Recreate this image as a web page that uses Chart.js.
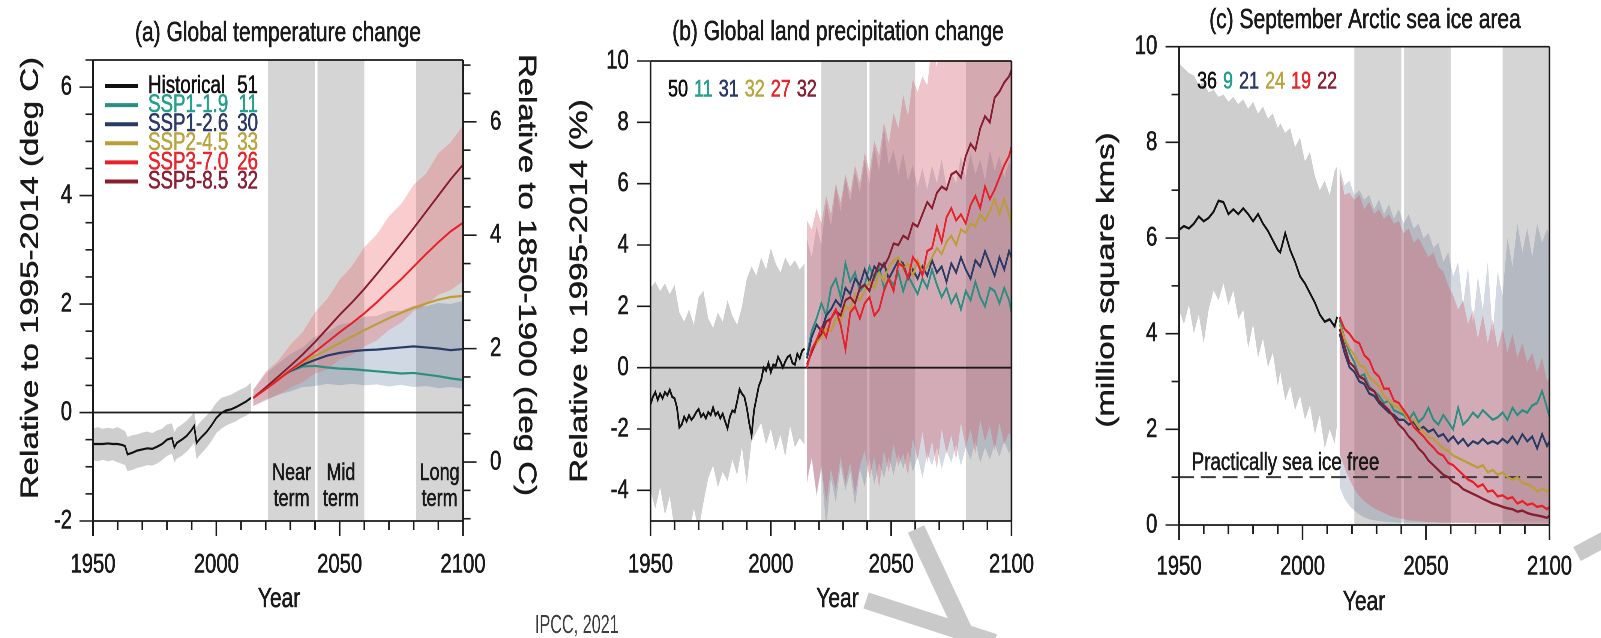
<!DOCTYPE html>
<html>
<head>
<meta charset="utf-8">
<title>Global temperature, land precipitation and Arctic sea ice</title>
<script src="https://cdn.jsdelivr.net/npm/chart.js@4.4.1/dist/chart.umd.min.js"></script>
<style>
  html, body { margin: 0; padding: 0; background: #fff; }
  body { position: relative; width: 1601px; height: 638px; overflow: hidden; }
  canvas.panel { position: absolute; top: 0; transform-origin: 0 0; transform: scaleX(0.75); }
  .wm { position: absolute; background: #c9c9c9; transform-origin: 0 50%; }
</style>
</head>
<body>
<canvas class="panel" id="panelA" width="727" height="638" style="left:0px"></canvas>
<canvas class="panel" id="panelB" width="700" height="638" style="left:530px"></canvas>
<canvas class="panel" id="panelC" width="728" height="638" style="left:1055px"></canvas>
<div class="wm" style="left:866px;top:592px;width:135px;height:17px;transform:rotate(18deg)"></div>
<div class="wm" style="left:916px;top:520px;width:128px;height:18px;transform:rotate(65deg)"></div>
<div class="wm" style="left:1577px;top:546px;width:40px;height:16px;transform:rotate(-28deg)"></div>
<script>
// ---------- shared categories ----------
const scenarioNames = ['Historical', 'SSP1-1.9', 'SSP1-2.6', 'SSP2-4.5', 'SSP3-7.0', 'SSP5-8.5'];
const yearLabels = [1950, 2000, 2050, 2100];
const termStart = [2021, 2041, 2081];
const termEnd = [2040, 2060, 2100];
const termNames = [['Near', 'term'], ['Mid', 'term'], ['Long', 'term']];
const zeroLineYears = [1950, 2100];
const zeroLineValues = [0, 0];
const iceFreeValues = [1, 1];

// ---------- (a) global temperature change ----------
const modelCountsA = [51, 11, 30, 33, 26, 32];
const tickLabelsA = [-2, 0, 2, 4, 6];
const tickLabelsA2 = [0, 2, 4, 6];
const histYearsA = [1950,1952,1954,1956,1958,1960,1962,1963,1964,1966,1968,1970,1972,1974,1976,1978,1980,1982,1983,1984,1986,1988,1990,1991,1992,1993,1994,1996,1998,2000,2002,2004,2006,2008,2010,2012,2014];
const histTempA = [-0.58,-0.58,-0.58,-0.57,-0.58,-0.58,-0.6,-0.62,-0.77,-0.74,-0.7,-0.68,-0.66,-0.67,-0.63,-0.58,-0.5,-0.47,-0.64,-0.56,-0.5,-0.43,-0.32,-0.25,-0.56,-0.5,-0.45,-0.36,-0.24,-0.1,-0.01,0.04,0.06,0.1,0.15,0.2,0.27];
const histUpperA = [-0.3,-0.27,-0.3,-0.28,-0.3,-0.27,-0.32,-0.34,-0.45,-0.42,-0.4,-0.37,-0.35,-0.38,-0.33,-0.3,-0.22,-0.2,-0.36,-0.28,-0.22,-0.15,-0.05,0.02,-0.27,-0.2,-0.15,-0.06,0.05,0.18,0.27,0.3,0.33,0.38,0.43,0.47,0.55];
const histLowerA = [-0.88,-0.9,-0.87,-0.9,-0.88,-0.92,-0.95,-0.97,-1.08,-1.06,-1.02,-1.0,-0.97,-0.98,-0.94,-0.88,-0.8,-0.76,-0.92,-0.85,-0.8,-0.72,-0.62,-0.55,-0.86,-0.8,-0.75,-0.65,-0.53,-0.38,-0.3,-0.24,-0.2,-0.16,-0.1,-0.06,0.0];
const sspYearsA = [2015,2020,2025,2030,2035,2040,2045,2050,2055,2060,2065,2070,2075,2080,2085,2090,2095,2100];
const ssp119A = [0.27,0.45,0.62,0.76,0.85,0.86,0.83,0.81,0.8,0.78,0.76,0.74,0.72,0.73,0.7,0.67,0.63,0.6];
const ssp126A = [0.27,0.45,0.62,0.77,0.88,0.97,1.05,1.1,1.13,1.15,1.16,1.18,1.2,1.22,1.2,1.18,1.15,1.17];
const ssp245A = [0.27,0.45,0.62,0.78,0.92,1.04,1.16,1.28,1.4,1.52,1.63,1.74,1.84,1.93,2.01,2.08,2.13,2.15];
const ssp370A = [0.27,0.43,0.6,0.78,0.95,1.12,1.3,1.48,1.65,1.83,2.03,2.25,2.46,2.69,2.92,3.14,3.34,3.5];
const ssp585A = [0.27,0.46,0.66,0.86,1.07,1.3,1.55,1.8,2.03,2.28,2.55,2.83,3.11,3.4,3.7,4.0,4.3,4.57];
const ssp370UpperA = [0.42,0.75,0.95,1.25,1.48,1.85,2.1,2.45,2.7,3.05,3.28,3.62,3.85,4.2,4.4,4.78,4.98,5.3];
const ssp370LowerA = [0.12,0.24,0.32,0.46,0.56,0.72,0.8,0.98,1.06,1.22,1.33,1.52,1.66,1.87,1.98,2.17,2.26,2.42];
const ssp126UpperA = [0.42,0.72,0.9,1.08,1.2,1.4,1.48,1.62,1.66,1.77,1.78,1.87,1.88,1.97,1.96,2.02,2.0,2.06];
const ssp126LowerA = [0.12,0.22,0.33,0.39,0.47,0.49,0.53,0.5,0.53,0.5,0.52,0.48,0.51,0.47,0.49,0.45,0.47,0.44];

// ---------- projection years shared by (b) and (c) ----------
const sspYears = [2015,2017,2019,2021,2023,2025,2027,2029,2031,2033,2035,2037,2039,2041,2043,2045,2047,2049,2051,2053,2055,2057,2059,2061,2063,2065,2067,2069,2071,2073,2075,2077,2079,2081,2083,2085,2087,2089,2091,2093,2095,2097,2099,2100];

// ---------- (b) global land precipitation change ----------
const modelCountsB = [50, 11, 31, 32, 27, 32];
const tickLabelsB = [-4, -2, 0, 2, 4, 6, 8, 10];
const histYearsB = [1950,1951,1952,1953,1954,1955,1956,1957,1958,1959,1960,1961,1962,1963,1964,1965,1966,1967,1968,1969,1970,1971,1972,1973,1974,1975,1976,1977,1978,1979,1980,1981,1982,1983,1984,1985,1986,1987,1988,1989,1990,1991,1992,1993,1994,1995,1996,1997,1998,1999,2000,2001,2002,2003,2004,2005,2006,2007,2008,2009,2010,2011,2012,2013,2014];
const histPrecipB = [-1.2,-0.95,-0.8,-1.05,-0.85,-1.0,-0.8,-0.9,-0.72,-0.95,-1.0,-1.3,-1.95,-1.85,-1.6,-1.75,-1.55,-1.7,-1.6,-1.45,-1.35,-1.6,-1.5,-1.65,-1.45,-1.55,-1.3,-1.55,-1.45,-1.65,-1.5,-1.75,-1.98,-1.6,-1.4,-1.45,-1.1,-0.7,-0.85,-0.95,-1.3,-1.8,-2.2,-1.4,-1.0,-0.6,-0.4,0.0,-0.1,0.15,-0.15,0.1,0.05,0.35,0.2,0.0,0.2,0.35,0.4,0.15,0.1,0.45,0.3,0.55,0.62];
const histBandYearsB = [1950,1952,1954,1956,1958,1960,1962,1964,1966,1968,1970,1972,1974,1976,1978,1980,1982,1984,1986,1988,1990,1992,1994,1996,1998,2000,2002,2004,2006,2008,2010,2012,2014];
const histUpperB = [2.6,2.8,2.5,2.75,2.4,2.7,1.8,1.5,1.9,1.4,2.3,2.5,1.6,1.3,1.8,1.5,2.2,1.7,1.4,2.0,2.9,3.3,3.0,3.6,3.2,3.9,3.4,3.1,3.6,3.3,3.5,3.2,3.4];
const histLowerB = [-4.0,-4.6,-3.9,-4.8,-4.2,-5.3,-5.4,-5.2,-5.5,-4.6,-5.3,-4.4,-3.6,-3.2,-3.9,-3.4,-3.7,-3.0,-3.5,-2.6,-3.8,-2.4,-2.1,-1.8,-2.5,-2.0,-2.7,-2.2,-2.9,-1.9,-2.6,-2.3,-2.5];
const ssp119B = [0.4,1.2,1.6,2.1,1.7,2.6,2.9,2.3,3.4,2.8,3.1,2.5,2.7,3.3,2.9,3.3,2.6,2.9,2.7,3.1,2.5,3.0,2.7,2.4,2.9,2.6,3.2,2.7,2.3,2.6,2.1,2.4,1.9,2.5,2.2,2.8,2.3,2.0,2.6,2.5,2.1,2.6,2.2,1.8];
const ssp126B = [0.3,1.0,1.4,1.2,1.7,1.9,2.2,2.0,2.6,2.4,2.9,2.7,3.2,2.8,3.3,3.1,3.4,2.9,3.2,3.5,3.4,2.9,3.2,2.9,3.3,3.0,3.5,3.1,3.3,2.8,3.4,3.1,3.6,3.2,2.9,3.5,3.3,3.8,3.4,3.0,3.6,3.2,3.8,3.6];
const ssp245B = [0.1,0.5,0.8,1.0,1.3,1.2,1.6,1.5,2.0,1.9,2.4,2.2,2.5,2.8,2.6,3.1,2.8,3.3,3.5,3.6,3.2,3.4,3.0,3.5,3.1,3.3,3.6,3.9,3.7,4.1,4.3,4.0,4.5,4.4,4.7,4.6,5.0,4.8,5.1,5.5,5.0,5.5,5.0,4.6];
const ssp370B = [0.0,0.6,0.9,1.3,1.0,1.6,1.9,1.4,0.6,1.8,2.0,1.6,2.1,2.3,1.7,1.9,2.5,2.9,2.5,3.4,3.3,2.9,3.6,3.4,3.0,3.8,3.9,4.6,4.1,4.9,5.2,4.8,5.0,4.7,5.3,5.6,5.2,5.9,5.5,5.8,6.2,6.6,6.9,7.2];
const ssp585B = [0.1,0.5,0.9,1.1,1.5,1.6,1.85,1.7,2.2,2.3,2.1,2.6,2.7,2.5,3.0,3.4,3.3,3.6,4.05,4.0,4.3,4.2,4.7,4.6,5.0,5.4,5.2,5.7,5.9,5.8,6.3,6.4,6.2,6.9,7.3,7.1,7.8,8.2,8.0,8.8,9.0,9.3,9.5,9.7];
const ssp370UpperB = [4.8,4.5,5.2,4.7,5.6,5.0,6.0,5.4,6.3,5.7,6.6,6.0,7.0,6.4,7.4,6.9,8.0,7.3,8.3,7.8,8.9,8.2,9.4,9.0,9.5,9.2,10.6,9.8,11.0,10.4,11.0,10.6,11.2,10.3,11.0,10.5,11.2,10.6,11.0,10.4,11.3,10.8,11.5,11.0];
const ssp370LowerB = [-3.8,-2.9,-4.1,-3.2,-4.4,-3.3,-4.0,-2.9,-3.8,-3.1,-4.1,-3.2,-2.7,-3.6,-2.9,-3.9,-2.7,-3.4,-2.5,-3.2,-2.8,-3.5,-2.3,-3.0,-2.1,-3.1,-2.4,-3.3,-2.0,-2.8,-2.2,-3.0,-1.8,-2.6,-2.0,-2.8,-1.7,-2.4,-1.9,-2.7,-1.8,-2.5,-2.1,-2.3];
const ssp126UpperB = [4.2,3.6,4.6,4.0,5.4,4.6,5.9,5.1,6.2,5.4,6.4,5.7,6.8,6.0,7.2,6.4,7.8,6.6,7.1,6.3,7.0,6.1,6.6,5.9,6.5,5.8,6.6,6.0,6.8,5.9,6.4,6.0,6.9,6.2,7.0,6.3,6.8,6.1,7.1,6.4,6.9,6.2,6.7,6.5];
const ssp126LowerB = [-3.6,-3.0,-4.2,-3.3,-5.2,-3.6,-4.4,-3.2,-4.0,-3.4,-4.5,-3.3,-3.9,-3.0,-3.8,-3.1,-3.6,-2.9,-3.5,-2.8,-3.3,-2.7,-3.4,-2.9,-3.6,-2.8,-3.2,-2.6,-3.3,-2.7,-3.1,-2.5,-3.2,-2.6,-3.0,-2.4,-3.1,-2.6,-3.0,-2.5,-2.9,-2.4,-2.8,-2.6];

// ---------- (c) September Arctic sea ice area ----------
const modelCountsC = [36, 9, 21, 24, 19, 22];
const tickLabelsC = [0, 2, 4, 6, 8, 10];
const histYearsC = [1950,1952,1954,1956,1958,1960,1962,1964,1966,1968,1970,1972,1974,1976,1978,1980,1982,1984,1986,1988,1990,1991,1993,1995,1997,1999,2001,2003,2005,2007,2009,2011,2013,2014];
const histIceC = [6.17,6.25,6.2,6.3,6.45,6.35,6.42,6.55,6.78,6.75,6.5,6.6,6.5,6.62,6.5,6.35,6.5,6.3,6.15,5.95,5.75,5.7,6.1,5.75,5.5,5.2,5.05,4.85,4.65,4.4,4.25,4.3,4.15,4.35];
const histUpperC = [9.65,9.55,9.45,9.4,9.2,9.25,9.05,9.1,8.95,9.0,8.85,8.95,8.8,8.9,8.7,8.85,8.6,8.75,8.5,8.6,8.3,8.4,8.2,8.3,7.9,8.1,7.6,7.8,7.3,7.0,7.2,6.9,7.4,7.5];
const histLowerC = [4.5,4.2,4.6,4.0,4.4,3.8,4.5,4.9,4.7,5.05,4.6,4.9,4.3,4.5,3.7,4.2,3.5,3.9,3.3,3.6,2.9,3.2,2.6,2.9,2.4,2.7,2.2,2.5,1.9,2.3,1.6,2.0,1.7,2.1];
const ssp119C = [4.3,3.9,3.6,3.4,3.1,3.15,2.9,2.8,2.7,2.55,2.6,2.4,2.35,2.3,2.2,2.35,2.15,2.25,2.45,2.2,2.1,2.3,2.15,2.0,2.45,2.1,2.2,2.35,2.25,2.4,2.3,2.2,2.25,2.35,2.2,2.45,2.3,2.4,2.35,2.5,2.55,2.8,2.45,2.25];
const ssp126C = [4.0,3.6,3.3,3.2,3.0,2.95,2.75,2.7,2.55,2.45,2.35,2.3,2.2,2.2,2.1,2.15,2.0,2.05,1.95,2.0,1.85,1.9,1.75,1.85,1.7,1.8,1.65,1.75,1.7,1.8,1.7,1.75,1.7,1.8,1.72,1.85,1.7,1.9,1.75,1.85,1.6,1.9,1.65,1.75];
const ssp245C = [4.2,3.9,3.7,3.55,3.35,3.3,3.1,3.0,2.9,2.7,2.6,2.5,2.45,2.35,2.2,2.2,2.05,1.95,1.85,1.8,1.7,1.6,1.55,1.45,1.4,1.35,1.3,1.25,1.2,1.25,1.1,1.15,1.05,1.1,1.0,0.95,1.0,0.88,0.85,0.8,0.7,0.75,0.7,0.75];
const ssp370C = [4.35,4.1,4.0,3.85,3.8,3.55,3.45,3.2,3.1,2.85,2.85,2.6,2.55,2.4,2.25,2.05,1.95,1.85,1.72,1.62,1.5,1.45,1.3,1.25,1.15,1.05,0.95,0.9,0.8,0.85,0.7,0.72,0.6,0.62,0.55,0.58,0.45,0.5,0.42,0.45,0.38,0.4,0.33,0.38];
const ssp585C = [4.1,3.75,3.4,3.3,3.1,3.05,2.85,2.8,2.6,2.5,2.4,2.25,2.1,2.0,1.85,1.75,1.6,1.5,1.35,1.25,1.15,1.05,1.0,0.9,0.85,0.75,0.7,0.65,0.6,0.55,0.5,0.45,0.42,0.38,0.35,0.33,0.28,0.3,0.25,0.22,0.2,0.18,0.15,0.2];
const ssp370UpperC = [7.4,6.9,6.95,6.8,6.9,6.6,6.75,6.5,6.6,6.4,6.5,6.3,6.35,6.1,6.2,5.9,6.0,5.8,5.6,5.7,5.4,5.3,5.0,4.8,4.5,4.7,4.2,4.5,3.9,4.4,3.8,4.3,3.7,4.1,3.6,4.0,3.5,3.8,3.4,3.6,3.2,3.5,3.0,3.1];
const ssp370LowerC = [1.5,1.2,0.95,0.75,0.6,0.5,0.42,0.35,0.3,0.25,0.2,0.17,0.14,0.12,0.1,0.09,0.08,0.07,0.06,0.06,0.05,0.05,0.05,0.04,0.04,0.04,0.04,0.03,0.03,0.03,0.03,0.03,0.03,0.02,0.02,0.02,0.02,0.02,0.02,0.02,0.02,0.02,0.02,0.02];
const ssp126UpperC = [7.5,7.1,7.2,6.9,7.0,6.8,6.9,6.6,6.8,6.5,6.7,6.4,6.6,6.3,6.5,6.2,6.3,6.0,6.1,5.8,5.9,5.5,5.7,5.2,5.5,4.6,5.4,4.2,5.2,4.5,5.5,4.0,5.3,4.8,6.0,5.4,6.3,5.7,6.2,5.6,6.3,5.9,6.2,6.0];
const ssp126LowerC = [0.8,0.55,0.4,0.3,0.22,0.16,0.12,0.1,0.08,0.07,0.06,0.06,0.05,0.05,0.05,0.05,0.05,0.05,0.05,0.05,0.05,0.05,0.05,0.05,0.05,0.05,0.05,0.05,0.05,0.05,0.05,0.05,0.05,0.05,0.05,0.05,0.05,0.05,0.05,0.05,0.05,0.05,0.05,0.05];

// ---------- styling ----------
const SQUEEZE = 0.75;               // horizontal CSS squeeze of every canvas
const FONT = '"Liberation Sans", Arial, Helvetica, sans-serif';
const INK = '#1a1a1a';
const TEXT_STROKE = 0.6;            // slight stroke keeps squeezed glyphs dark
const lineColors = ['#111111', '#2a8f80', '#283a66', '#bc9d36', '#e8202a', '#8a1c30'];
const textColors = ['#111111', '#25a08d', '#2c3a68', '#b9a640', '#e8262e', '#8a2035'];
const TERM_FILL = '#d5d5d5';
const HIST_BAND = 'rgba(120,120,120,0.36)';
const PINK_A = 'rgba(235,100,100,0.32)';
const BLUE_A = 'rgba(60,90,140,0.24)';
const PINK_BC = 'rgba(212,92,108,0.36)';
const BLUE_BC = 'rgba(85,105,140,0.26)';

Chart.defaults.font.family = FONT;
Chart.defaults.color = INK;

// logical canvas x from a page x, for a canvas whose left edge sits at `left`
const lx = (pageX, left) => (pageX - left) / SQUEEZE;
const xy = (years, vals) => years.map((yr, i) => ({ x: yr, y: vals[i] }));
const hasLabel = (list, v) => list.some(l => Math.abs(l - v) < 1e-6);

function lineSet(years, vals, color, width, order, extra) {
  return Object.assign({ data: xy(years, vals), borderColor: color, borderWidth: width,
    pointRadius: 0, pointHoverRadius: 0, fill: false, tension: 0, order }, extra || {});
}
function bandSets(years, upper, lower, color, order) {
  return [
    { data: xy(years, upper), borderWidth: 0, borderColor: 'rgba(0,0,0,0)', pointRadius: 0,
      fill: '+1', backgroundColor: color, order },
    { data: xy(years, lower), borderWidth: 0, borderColor: 'rgba(0,0,0,0)', pointRadius: 0,
      fill: false, order }
  ];
}
const tickText = { size: 27 };
function yearAxis(height, pad) {
  return {
    type: 'linear', position: 'bottom', min: 1950, max: 2100,
    ticks: { stepSize: 10, autoSkip: false, maxRotation: 0, minRotation: 0, includeBounds: false,
      padding: pad, color: INK, font: tickText, textStrokeColor: INK, textStrokeWidth: TEXT_STROKE,
      callback: v => hasLabel(yearLabels, v) ? String(v) : '' },
    grid: { display: false, drawTicks: false }, border: { display: false },
    afterFit: s => { s.height = height; }
  };
}
function valueAxis(position, min, max, step, labels, width, pad) {
  return {
    type: 'linear', position, min, max,
    ticks: { stepSize: step, autoSkip: false, includeBounds: false, padding: pad, color: INK,
      font: tickText, textStrokeColor: INK, textStrokeWidth: TEXT_STROKE,
      callback: v => hasLabel(labels, v) ? String(v) : '' },
    grid: { display: false, drawTicks: false }, border: { display: false },
    afterFit: s => { s.width = width; }
  };
}

// period columns, plot frame and tick marks
const framePlugin = {
  id: 'frame',
  beforeDatasetsDraw(chart) {
    const { ctx, chartArea: a } = chart;
    const x = chart.scales.x;
    ctx.save();
    ctx.fillStyle = TERM_FILL;
    for (let i = 0; i < termStart.length; i++) {
      const x0 = x.getPixelForValue(termStart[i]);
      const x1 = x.getPixelForValue(termEnd[i]);
      ctx.fillRect(x0, a.top, x1 - x0, a.bottom - a.top);
    }
    ctx.restore();
  },
  afterDatasetsDraw(chart) {
    const { ctx, chartArea: a } = chart;
    ctx.save();
    ctx.strokeStyle = INK;
    // frame: horizontal edges 1.7px, vertical edges compensate the squeeze
    ctx.lineWidth = 1.7;
    ctx.beginPath();
    ctx.moveTo(a.left, a.top); ctx.lineTo(a.right, a.top);
    ctx.moveTo(a.left, a.bottom); ctx.lineTo(a.right, a.bottom);
    ctx.stroke();
    ctx.lineWidth = 2.3;
    ctx.beginPath();
    ctx.moveTo(a.left, a.top); ctx.lineTo(a.left, a.bottom);
    ctx.moveTo(a.right, a.top); ctx.lineTo(a.right, a.bottom);
    ctx.stroke();
    for (const id of Object.keys(chart.scales)) {
      const s = chart.scales[id];
      for (const t of s.ticks) {
        const major = String(t.label) !== '';
        const p = s.getPixelForValue(t.value);
        ctx.beginPath();
        if (s.position === 'bottom') {
          ctx.lineWidth = 2.2;
          ctx.moveTo(p, a.bottom); ctx.lineTo(p, a.bottom + (major ? 15 : 9));
        } else if (s.position === 'left') {
          ctx.lineWidth = 1.6;
          ctx.moveTo(a.left, p); ctx.lineTo(a.left - (major ? 18 : 10), p);
        } else {
          ctx.lineWidth = 1.6;
          ctx.moveTo(a.right, p); ctx.lineTo(a.right + (major ? 18 : 10), p);
        }
        ctx.stroke();
      }
    }
    ctx.restore();
  }
};

function text(ctx, str, x, y, font, color, align, baseline, rot) {
  ctx.save();
  ctx.translate(x, y);
  if (rot) ctx.rotate(rot);
  ctx.font = font;
  ctx.fillStyle = color;
  ctx.strokeStyle = color;
  ctx.lineWidth = TEXT_STROKE;
  ctx.textAlign = align || 'center';
  ctx.textBaseline = baseline || 'alphabetic';
  ctx.fillText(str, 0, 0);
  ctx.strokeText(str, 0, 0);
  ctx.restore();
}
function countsRow(ctx, counts, x, y) {
  ctx.save();
  ctx.font = '24px ' + FONT;
  let cx = x;
  counts.forEach((n, i) => {
    text(ctx, String(n), cx, y, '24px ' + FONT, textColors[i], 'left', 'middle');
    cx += ctx.measureText(String(n)).width + 8;
  });
  ctx.restore();
}

const baseOptions = (padding, scales) => ({
  responsive: false, animation: false, devicePixelRatio: 2,
  layout: { padding, autoPadding: false },
  plugins: { legend: { display: false }, tooltip: { enabled: false }, title: { display: false } },
  events: [],
  scales
});

// ---------- panel (a) ----------
const LA = 0;
new Chart(document.getElementById('panelA'), {
  type: 'line',
  data: {
    datasets: [
      ...bandSets(histYearsA, histUpperA, histLowerA, HIST_BAND, 20),
      ...bandSets(sspYearsA, ssp126UpperA, ssp126LowerA, BLUE_A, 19),
      ...bandSets(sspYearsA, ssp370UpperA, ssp370LowerA, PINK_A, 18),
      lineSet(zeroLineYears, zeroLineValues, INK, 1.8, 10),
      lineSet(histYearsA, histTempA, lineColors[0], 2.2, 8),
      lineSet(sspYearsA, ssp119A, lineColors[1], 2.2, 6),
      lineSet(sspYearsA, ssp126A, lineColors[2], 2.2, 5),
      lineSet(sspYearsA, ssp245A, lineColors[3], 2.2, 4),
      lineSet(sspYearsA, ssp370A, lineColors[4], 2.2, 2),
      lineSet(sspYearsA, ssp585A, lineColors[5], 2.2, 3)
    ]
  },
  options: baseOptions({ top: 60, left: 0, right: 0, bottom: 0 }, {
    x: yearAxis(117, 28),
    y: valueAxis('left', -2, 6.5, 0.5, tickLabelsA, lx(93, LA), 28),
    y2: valueAxis('right', -1.04, 7.09, 0.5, tickLabelsA2, 727 - lx(463, LA), 36)
  }),
  plugins: [framePlugin, {
    id: 'textA',
    afterDraw(chart) {
      const ctx = chart.ctx;
      const x = chart.scales.x;
      text(ctx, '(a) Global temperature change', lx(278, LA), 41, '28px ' + FONT, INK);
      text(ctx, 'Relative to 1995-2014 (deg C)', lx(31, LA), 278, '33px ' + FONT, INK, 'center', 'middle', -Math.PI / 2);
      text(ctx, 'Relative to 1850-1900 (deg C)', lx(526, LA), 275, '33px ' + FONT, INK, 'center', 'middle', Math.PI / 2);
      text(ctx, 'Year', lx(279, LA), 607, '28px ' + FONT, INK);
      for (let i = 0; i < termStart.length; i++) {
        const cx = (x.getPixelForValue(termStart[i]) + x.getPixelForValue(termEnd[i])) / 2;
        text(ctx, termNames[i][0], cx, 480, '24px ' + FONT, INK);
        text(ctx, termNames[i][1], cx, 506, '24px ' + FONT, INK);
      }
      scenarioNames.forEach((name, i) => {
        const y = 86 + i * 19.1;
        ctx.save();
        ctx.strokeStyle = lineColors[i];
        ctx.lineWidth = 4;
        ctx.beginPath();
        ctx.moveTo(lx(105, LA), y); ctx.lineTo(lx(138, LA), y);
        ctx.stroke();
        ctx.restore();
        text(ctx, name, lx(148, LA), y, '25px ' + FONT, textColors[i], 'left', 'middle');
        text(ctx, String(modelCountsA[i]), lx(258, LA), y, '25px ' + FONT, textColors[i], 'right', 'middle');
      });
    }
  }]
});

// ---------- panel (b) ----------
const LB = 530;
new Chart(document.getElementById('panelB'), {
  type: 'line',
  data: {
    datasets: [
      ...bandSets(histBandYearsB, histUpperB, histLowerB, HIST_BAND, 20),
      ...bandSets(sspYears, ssp126UpperB, ssp126LowerB, BLUE_BC, 19),
      ...bandSets(sspYears, ssp370UpperB, ssp370LowerB, PINK_BC, 18),
      lineSet(zeroLineYears, zeroLineValues, INK, 1.8, 10),
      lineSet(histYearsB, histPrecipB, lineColors[0], 2.4, 8),
      lineSet(sspYears, ssp119B, lineColors[1], 2.4, 6),
      lineSet(sspYears, ssp126B, lineColors[2], 2.4, 5),
      lineSet(sspYears, ssp245B, lineColors[3], 2.4, 4),
      lineSet(sspYears, ssp370B, lineColors[4], 2.4, 2),
      lineSet(sspYears, ssp585B, lineColors[5], 2.4, 3)
    ]
  },
  options: baseOptions({ top: 61, left: 0, right: 700 - lx(1024.5, LB), bottom: 0 }, {
    x: yearAxis(117, 28),
    y: valueAxis('left', -5, 10, 2, tickLabelsB, lx(650.5, LB), 29)
  }),
  plugins: [framePlugin, {
    id: 'textB',
    afterDraw(chart) {
      const ctx = chart.ctx;
      text(ctx, '(b) Global land precipitation change', lx(838, LB), 40, '28px ' + FONT, INK);
      text(ctx, 'Relative to 1995-2014 (%)', lx(580, LB), 291, '33px ' + FONT, INK, 'center', 'middle', -Math.PI / 2);
      text(ctx, 'Year', lx(837.5, LB), 607, '28px ' + FONT, INK);
      countsRow(ctx, modelCountsB, lx(668, LB), 90);
      ctx.save();
      ctx.translate(lx(535, LB), 633);
      ctx.scale(0.83, 1);
      ctx.font = '26px ' + FONT;
      ctx.fillStyle = '#3c3c3c';
      ctx.textAlign = 'left';
      ctx.fillText('IPCC, 2021', 0, 0);
      ctx.restore();
    }
  }]
});

// ---------- panel (c) ----------
const LC = 1055;
new Chart(document.getElementById('panelC'), {
  type: 'line',
  data: {
    datasets: [
      ...bandSets(histYearsC, histUpperC, histLowerC, HIST_BAND, 20),
      ...bandSets(sspYears, ssp126UpperC, ssp126LowerC, BLUE_BC, 19),
      ...bandSets(sspYears, ssp370UpperC, ssp370LowerC, PINK_BC, 18),
      lineSet(zeroLineYears, iceFreeValues, '#3a3a3a', 2, 10, { borderDash: [20, 9] }),
      lineSet(histYearsC, histIceC, lineColors[0], 2.4, 8),
      lineSet(sspYears, ssp119C, lineColors[1], 2.4, 6),
      lineSet(sspYears, ssp126C, lineColors[2], 2.4, 5),
      lineSet(sspYears, ssp245C, lineColors[3], 2.4, 4),
      lineSet(sspYears, ssp370C, lineColors[4], 2.4, 2),
      lineSet(sspYears, ssp585C, lineColors[5], 2.4, 3)
    ]
  },
  options: baseOptions({ top: 46.7, left: 0, right: 728 - lx(1549.5, LC), bottom: 0 }, {
    x: yearAxis(113, 26),
    y: valueAxis('left', 0, 10, 1, tickLabelsC, lx(1179, LC), 29)
  }),
  plugins: [framePlugin, {
    id: 'textC',
    afterDraw(chart) {
      const ctx = chart.ctx;
      text(ctx, '(c) September Arctic sea ice area', lx(1365, LC), 28, '28px ' + FONT, INK);
      text(ctx, '(million square kms)', lx(1107, LC), 280, '33px ' + FONT, INK, 'center', 'middle', -Math.PI / 2);
      text(ctx, 'Year', lx(1364, LC), 610, '28px ' + FONT, INK);
      countsRow(ctx, modelCountsC, lx(1197, LC), 82);
      text(ctx, 'Practically sea ice free', lx(1191.7, LC), 470, '25px ' + FONT, INK, 'left', 'alphabetic');
    }
  }]
});
</script>
</body>
</html>
